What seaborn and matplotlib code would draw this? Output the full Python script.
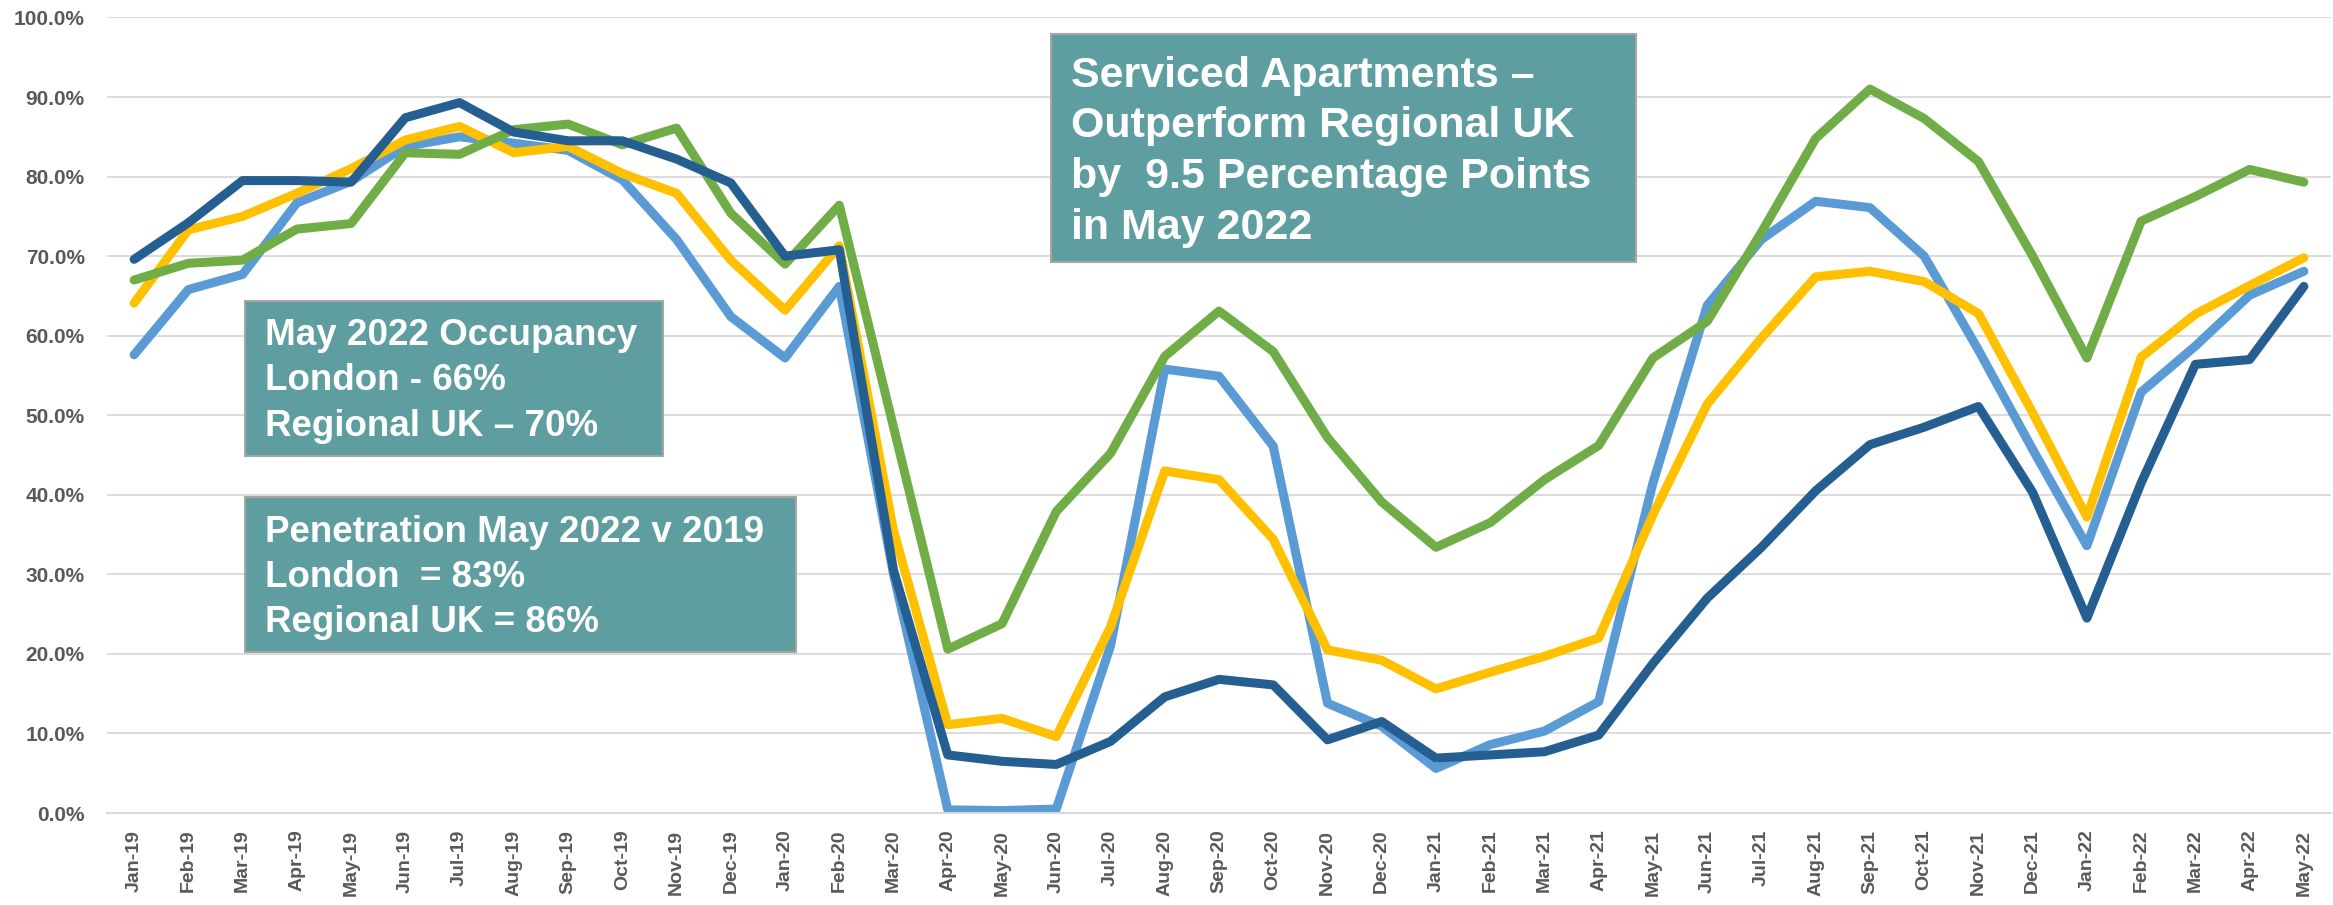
import pandas as pd
import seaborn as sns
import matplotlib.pyplot as plt
from matplotlib.patches import Rectangle
from matplotlib.ticker import PercentFormatter, FixedLocator

# Months on the x axis
months = ["Jan-19", "Feb-19", "Mar-19", "Apr-19", "May-19", "Jun-19", "Jul-19", "Aug-19",
          "Sep-19", "Oct-19", "Nov-19", "Dec-19", "Jan-20", "Feb-20", "Mar-20", "Apr-20",
          "May-20", "Jun-20", "Jul-20", "Aug-20", "Sep-20", "Oct-20", "Nov-20", "Dec-20",
          "Jan-21", "Feb-21", "Mar-21", "Apr-21", "May-21", "Jun-21", "Jul-21", "Aug-21",
          "Sep-21", "Oct-21", "Nov-21", "Dec-21", "Jan-22", "Feb-22", "Mar-22", "Apr-22",
          "May-22"]

# Occupancy (%)
london_sa = [57.6, 65.8, 67.7, 76.7, 79.4, 83.8, 85.0, 84.2, 83.3, 79.6, 72.1, 62.4, 57.2,
             66.2, 30.0, 0.4, 0.3, 0.5, 21.0, 55.8, 54.9, 46.1, 13.8, 10.9, 5.6, 8.6, 10.3,
             14.0, 41.5, 63.8, 72.1, 76.9, 76.1, 70.0, 58.2, 45.7, 33.6, 52.9, 58.7, 65.1, 68.1]
regional_hotels = [64.1, 73.3, 75.0, 77.9, 81.0, 84.6, 86.3, 83.0, 83.8, 80.4, 77.9, 69.5, 63.2,
                   71.3, 35.5, 11.1, 11.9, 9.6, 23.4, 43.0, 41.9, 34.4, 20.5, 19.2, 15.6, 17.7,
                   19.7, 22.0, 37.5, 51.4, 59.7, 67.4, 68.1, 66.8, 62.8, 50.3, 37.2, 57.3, 62.7,
                   66.3, 69.8]
regional_sa = [67.0, 69.1, 69.5, 73.4, 74.1, 83.0, 82.8, 85.9, 86.6, 84.0, 86.1, 75.4, 69.0,
               76.4, 48.5, 20.6, 23.8, 37.9, 45.2, 57.4, 63.1, 58.0, 47.2, 39.1, 33.4, 36.5,
               41.9, 46.2, 57.2, 61.8, 73.0, 84.8, 91.0, 87.3, 81.9, 70.0, 57.2, 74.4, 77.5,
               80.9, 79.3]
london_hotels = [69.6, 74.2, 79.5, 79.5, 79.3, 87.4, 89.3, 85.6, 84.5, 84.5, 82.2, 79.2, 70.0,
                 70.8, 30.5, 7.3, 6.5, 6.1, 9.0, 14.6, 16.8, 16.1, 9.2, 11.5, 6.9, 7.3, 7.7,
                 9.8, 18.8, 27.0, 33.4, 40.5, 46.3, 48.5, 51.1, 40.3, 24.5, 41.5, 56.4, 57.0, 66.2]

series = {
    "London Serviced Apartments": london_sa,
    "Regional UK Hotels": regional_hotels,
    "Regional UK Serviced Apartments": regional_sa,
    "London Hotels": london_hotels,
}
colors = ["#5B9BD5", "#FFC000", "#70AD47", "#255E91"]

rows = []
for name, vals in series.items():
    for i, v in enumerate(vals):
        rows.append({"series": name, "idx": i, "month": months[i], "occ": v / 100})
df = pd.DataFrame(rows)

sns.set_style("white")
plt.rcParams["font.family"] = ["Liberation Sans", "DejaVu Sans"]

W, H = 2333, 905
fig = plt.figure(figsize=(W / 100, H / 100), dpi=100)
ax = fig.add_axes([107 / W, 1 - 813 / H, (2331 - 107) / W, (813 - 17.5) / H])

sns.lineplot(data=df, x="idx", y="occ", hue="series", hue_order=list(series.keys()),
             palette=colors, linewidth=6.5, legend=False, sort=False, ax=ax,
             solid_capstyle="round", solid_joinstyle="round")

ax.set_xlim(-0.5, len(months) - 0.5)
ax.set_ylim(0, 1.0)
ax.set_yticks([i / 10 for i in range(11)])
ax.yaxis.set_major_formatter(PercentFormatter(1.0, decimals=1))
ax.set_xticks(range(len(months)))
ax.set_xticklabels(months, rotation=90)
ax.xaxis.set_minor_locator(FixedLocator([i - 0.5 for i in range(len(months) + 1)]))
ax.set_xlabel("")
ax.set_ylabel("")

ax.grid(axis="y", color="#D9D9D9", linewidth=1.3)
ax.set_axisbelow(True)
for s in ["top", "right", "left"]:
    ax.spines[s].set_visible(False)
ax.spines["bottom"].set_color("#D9D9D9")
ax.spines["bottom"].set_linewidth(1.5)

ax.tick_params(axis="x", which="major", length=0, pad=12, labelsize=14, labelcolor="#595959")
ax.tick_params(axis="x", which="minor", length=5, width=1.3, color="#D9D9D9")
ax.tick_params(axis="y", length=0, pad=16, labelsize=15, labelcolor="#595959")
for lab in ax.get_xticklabels() + ax.get_yticklabels():
    lab.set_fontweight("bold")

# Annotation boxes (pixel coordinates of the original picture)
boxes = [
    (1051, 34, 1636, 262, 1071, [87, 137, 188, 239], 31,
     ["Serviced Apartments \u2013", "Outperform Regional UK",
      "by  9.5 Percentage Points", "in May 2022"]),
    (245, 301, 663, 456, 265, [345, 390, 436], 26.5,
     ["May 2022 Occupancy", "London - 66%", "Regional UK \u2013 70%"]),
    (245, 497, 796, 652, 265, [542, 587, 632], 26.5,
     ["Penetration May 2022 v 2019", "London  = 83%", "Regional UK = 86%"]),
]
for x0, y0, x1, y1, tx, baselines, fs, lines in boxes:
    fig.patches.append(Rectangle((x0 / W, 1 - y1 / H), (x1 - x0) / W, (y1 - y0) / H,
                                 transform=fig.transFigure, facecolor="#5F9EA0",
                                 edgecolor="#A6A6A6", linewidth=1.5, zorder=5))
    for b, line in zip(baselines, lines):
        fig.text(tx / W, 1 - b / H, line, color="white", fontsize=fs, fontweight="bold",
                 va="baseline", ha="left", zorder=6)

fig.savefig("out.png", dpi=100)
